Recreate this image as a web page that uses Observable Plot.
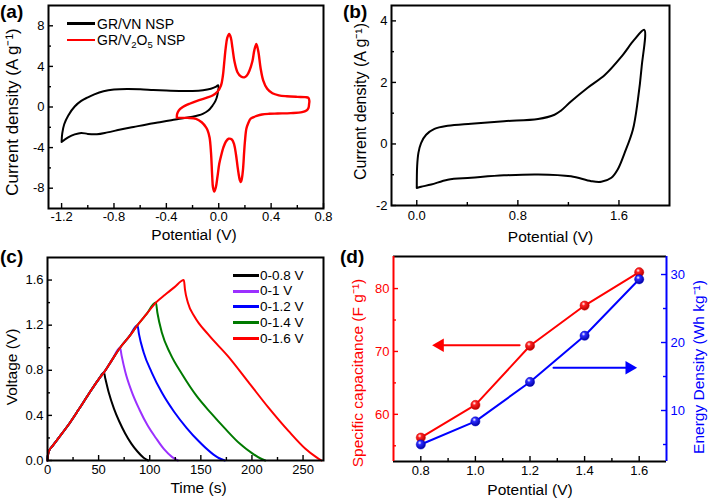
<!DOCTYPE html>
<html>
<head>
<meta charset="utf-8">
<script src="https://cdn.jsdelivr.net/npm/d3@7"></script>
<script src="https://cdn.jsdelivr.net/npm/@observablehq/plot@0.6"></script>
<style>
  html,body{margin:0;padding:0;background:#fff;}
  #fig{position:relative;width:708px;height:501px;overflow:hidden;font-family:"Liberation Sans",Arial,Helvetica,sans-serif;color:#000;}
  #fig svg{position:absolute;}
  .plab{position:absolute;font-family:"Liberation Sans",Arial,sans-serif;font-weight:bold;font-size:19px;line-height:1;}
  .leg{position:absolute;white-space:nowrap;}
  .leg .row{position:absolute;left:0;display:flex;align-items:center;height:14px;line-height:14px;}
  .leg .sw{display:inline-block;}
  .sub{font-size:9.5px;position:relative;top:3px;line-height:9px;}
</style>
</head>
<body>
<div id="fig"></div>
<script>
// ================= DATA =================
// (a) CV curves
const vnV  = [-1.2, -1.195, -1.18, -1.15, -1.1, -1.05, -1.0, -0.95, -0.88, -0.8, -0.7, -0.6, -0.5, -0.4, -0.3, -0.2, -0.12, -0.06, -0.02, -0.005, -0.01, -0.025, -0.047, -0.08, -0.122, -0.2, -0.3, -0.375, -0.45, -0.55, -0.65, -0.75, -0.85, -0.93, -1.0, -1.05, -1.1, -1.15, -1.2];
const vnI  = [-3.45, -2.6, -1.7, -0.85, 0.05, 0.6, 0.95, 1.25, 1.55, 1.72, 1.78, 1.75, 1.68, 1.62, 1.58, 1.58, 1.65, 1.8, 2.0, 2.15, 1.2, 0.6, 0.15, -0.35, -0.67, -0.95, -1.15, -1.33, -1.5, -1.72, -1.97, -2.22, -2.5, -2.68, -2.65, -2.55, -2.7, -3.0, -3.45];
const v2o5V = [-0.32, -0.318, -0.305, -0.28, -0.223, -0.15, -0.09, -0.047, -0.01, 0.017, 0.032, 0.042, 0.053, 0.065, 0.08, 0.093, 0.105, 0.12, 0.143, 0.17, 0.195, 0.215, 0.235, 0.257, 0.272, 0.287, 0.302, 0.32, 0.34, 0.37, 0.41, 0.459, 0.52, 0.6, 0.66, 0.685, 0.692, 0.69,
  0.685, 0.67, 0.636, 0.55, 0.45, 0.383, 0.33, 0.29, 0.262, 0.243, 0.225, 0.211, 0.2, 0.194, 0.185, 0.176, 0.169, 0.161, 0.152, 0.143, 0.132, 0.118, 0.1, 0.075, 0.055, 0.035, 0.02, 0.004, -0.01, -0.022, -0.034, -0.044, -0.05, -0.059, -0.07, -0.085, -0.097, -0.13, -0.173, -0.24, -0.32];
const v2o5I = [-1.05, -0.7, -0.35, -0.05, 0.32, 0.68, 0.92, 1.13, 1.5, 2.1, 3.1, 4.4, 5.8, 6.8, 7.2, 6.8, 5.8, 4.5, 3.43, 3.0, 2.92, 3.1, 3.6, 4.5, 5.6, 6.2, 5.5, 3.8, 2.6, 1.79, 1.35, 1.15, 1.06, 1.0, 0.97, 0.9, 0.6, 0.3,
  -0.1, -0.35, -0.51, -0.6, -0.64, -0.67, -0.74, -0.88, -1.02, -1.16, -1.6, -2.15, -3.4, -4.45, -6.2, -7.1, -7.4, -7.2, -6.6, -5.8, -4.7, -3.7, -3.2, -3.13, -3.4, -4.0, -4.7, -5.6, -6.9, -7.9, -8.33, -7.9, -6.8, -4.5, -3.0, -2.3, -2.0, -1.5, -1.16, -1.07, -1.05];

// (b) CV curve
const bV = [0, 0.003, 0.013, 0.034, 0.074, 0.14, 0.245, 0.43, 0.69, 0.96, 1.09, 1.14, 1.22, 1.35, 1.49, 1.62, 1.72, 1.8, 1.78, 1.75, 1.71, 1.645, 1.59, 1.54, 1.46, 1.38, 1.22, 0.96, 0.69, 0.43, 0.245, 0.114, 0.034, 0];
const bI = [-1.43, -0.72, -0.29, 0.03, 0.3, 0.49, 0.59, 0.66, 0.74, 0.81, 0.95, 1.08, 1.38, 1.82, 2.25, 2.84, 3.38, 3.71, 2.52, 1.44, 0.46, -0.29, -0.83, -1.1, -1.23, -1.21, -1.05, -0.99, -1.02, -1.1, -1.16, -1.32, -1.39, -1.43];

// (c) galvanostatic charge / discharge
const chargeT = [0, 0.5, 1.5, 5, 10, 20, 30, 40, 50, 55.2, 63, 71, 80, 88, 97, 106, 115, 124, 133.4];
const chargeV = [0, 0.05, 0.085, 0.13, 0.19, 0.31, 0.445, 0.585, 0.72, 0.78, 0.89, 1.0, 1.1, 1.2, 1.3, 1.4, 1.47, 1.535, 1.6];
const dis08T = [55.2, 56.5, 60, 65, 70, 76, 82, 88, 94, 98.5];
const dis08V = [0.78, 0.73, 0.6, 0.46, 0.35, 0.24, 0.15, 0.08, 0.025, 0];
const dis10T = [71, 72.5, 76, 82, 90, 98, 106, 114, 122, 127.5];
const dis10V = [1.0, 0.93, 0.79, 0.62, 0.45, 0.31, 0.2, 0.1, 0.03, 0];
const dis12T = [88, 89.5, 94, 102, 112, 124, 136, 148, 160, 168, 173.5];
const dis12V = [1.2, 1.12, 0.96, 0.78, 0.6, 0.43, 0.29, 0.17, 0.07, 0.02, 0];
const dis14T = [106, 107.5, 112, 120, 132, 146, 160, 174, 188, 200, 208, 213];
const dis14V = [1.4, 1.31, 1.13, 0.95, 0.76, 0.57, 0.42, 0.28, 0.15, 0.065, 0.02, 0];
const dis16T = [133.4, 134.5, 137.3, 143.9, 157, 176.7, 196.4, 216, 235.9, 252.3, 262.2, 268];
const dis16V = [1.6, 1.515, 1.40, 1.275, 1.12, 0.923, 0.697, 0.471, 0.26, 0.104, 0.034, 0];
const gcdLabels = ["0-0.8 V", "0-1 V", "0-1.2 V", "0-1.4 V", "0-1.6 V"];

// (d) capacitance & energy density vs potential window
const dPotential = [0.8, 1.0, 1.2, 1.4, 1.6];
const dCapacitance = [56.3, 61.5, 70.9, 77.3, 82.6];
const dEnergy = [5.0, 8.4, 14.2, 21.0, 29.3];
// annotation arrows (data coordinates)
const capArrowX = [1.162, 0.87], capArrowY = [71, 71];
const enArrowX = [1.286, 1.564], enArrowY = [16.3, 16.3];

// tick labels
const aXTicks = [-1.2, -0.8, -0.4, 0, 0.4, 0.8], aXMinor = [-1.0, -0.6, -0.2, 0.2, 0.6];
const aYTicks = [-8, -4, 0, 4, 8], aYMinor = [-6, -2, 2, 6];
const bXTicks = [0, 0.8, 1.6], bXMinor = [0.4, 1.2];
const bYTicks = [-2, 0, 2, 4], bYMinor = [-1, 1, 3];
const cXTicks = [0, 50, 100, 150, 200, 250], cXMinor = [25, 75, 125, 175, 225];
const cYTicks = [0, 0.4, 0.8, 1.2, 1.6], cYMinor = [0.2, 0.6, 1.0, 1.4];
const dXTicks = [0.8, 1.0, 1.2, 1.4, 1.6], dXMinor = [0.9, 1.1, 1.3, 1.5];
const dYLTicks = [60, 70, 80], dYLMinor = [55, 65, 75];
const dYRTicks = [10, 20, 30], dYRMinor = [5, 15, 25];

// ================= DRAWING =================
const FONT = '"Liberation Sans", Arial, Helvetica, sans-serif';
const RED = "#ff0000", BLUE = "#0000ff", PURPLE = "#9b30ff", GREEN = "#007a00";
const fig = document.getElementById("fig");
const f1 = d => d.toFixed(1), f0 = d => String(d);

function place(svg, left, top) {
  svg.style.left = left + "px";
  svg.style.top = top + "px";
  fig.appendChild(svg);
  return svg;
}

function axisSet(o) {
  const iw = o.width - o.m[1] - o.m[3], ih = o.height - o.m[0] - o.m[2];
  const c = o.color || "#000";
  const out = [];
  if (o.xTicks) {
    out.push(Plot.tickX(o.xTicks, {x: d => d, insetTop: ih - 5, stroke: "#000", strokeWidth: 1.4}));
    out.push(Plot.tickX(o.xMinor, {x: d => d, insetTop: ih - 3, stroke: "#000", strokeWidth: 1.4}));
    out.push(Plot.axisX({ticks: o.xTicks, tickSize: 0, tickPadding: o.xPad ?? 4, tickFormat: o.xFmt, label: null, fontSize: 13}));
    out.push(Plot.text([o.xTitle], {text: d => d, frameAnchor: "bottom", textAnchor: "middle", lineAnchor: "middle", dx: o.xOff[0], dy: o.xOff[1], fontSize: 15.5}));
  }
  if (o.yTicks) {
    const right = o.yAnchor === "right";
    const inset = right ? {insetLeft: iw - 5} : {insetRight: iw - 5};
    const inset2 = right ? {insetLeft: iw - 3} : {insetRight: iw - 3};
    out.push(Plot.tickY(o.yTicks, {y: d => d, ...inset, stroke: c, strokeWidth: 1.4}));
    out.push(Plot.tickY(o.yMinor, {y: d => d, ...inset2, stroke: c, strokeWidth: 1.4}));
    out.push(Plot.axisY({ticks: o.yTicks, anchor: right ? "right" : "left", tickSize: 0, tickPadding: 4, tickFormat: o.yFmt, label: null, color: c, fontSize: 13}));
    out.push(Plot.text([o.yTitle], {text: d => d, frameAnchor: right ? "right" : "left", rotate: -90, textAnchor: "middle", lineAnchor: "middle", dx: o.yOff[0], dy: o.yOff[1], fontSize: o.yFont ?? 15.5, fill: c}));
  }
  return out;
}

function makePlot(o, marks) {
  return Plot.plot({
    width: o.width, height: o.height,
    marginTop: o.m[0], marginRight: o.m[1], marginBottom: o.m[2], marginLeft: o.m[3],
    x: {domain: o.x, axis: o.xTicks ? undefined : null},
    y: {domain: o.y, axis: o.yTicks ? undefined : null},
    style: {background: "transparent", fontFamily: FONT, fontSize: "13px", color: "#000", overflow: "visible"},
    marks
  });
}

// ---------- (a) ----------
{
  const o = {width: 354, height: 250, m: [5, 31, 42, 48], x: [-1.3, 0.8], y: [-10, 10],
    xTicks: aXTicks, xMinor: aXMinor, xFmt: f1, xTitle: "Potential (V)", xOff: [8, 27], xPad: 3,
    yTicks: aYTicks, yMinor: aYMinor, yFmt: f0, yTitle: "Current density (A g⁻¹)", yOff: [-36, 5], yFont: 17};
  place(makePlot(o, [
    Plot.line(vnI, {x: vnV, y: vnI, stroke: "#000", strokeWidth: 2, curve: "catmull-rom"}),
    Plot.line(v2o5I, {x: v2o5V, y: v2o5I, stroke: RED, strokeWidth: 2.4, curve: "catmull-rom"}),
    ...axisSet(o),
    Plot.frame({stroke: "#000", strokeWidth: 2})
  ]), 0, 0);
}

// ---------- (b) ----------
{
  const o = {width: 354, height: 250, m: [5, 39, 45, 37], x: [-0.2, 2.0], y: [-2, 4.5],
    xTicks: bXTicks, xMinor: bXMinor, xFmt: f1, xTitle: "Potential (V)", xOff: [20, 32], xPad: 5,
    yTicks: bYTicks, yMinor: bYMinor, yFmt: f0, yTitle: "Current density (A g⁻¹)", yOff: [-31, -4], yFont: 16};
  place(makePlot(o, [
    Plot.line(bI, {x: bV, y: bI, stroke: "#000", strokeWidth: 2, curve: "catmull-rom"}),
    ...axisSet(o),
    Plot.frame({stroke: "#000", strokeWidth: 2})
  ]), 354, 0);
}

// ---------- (c) ----------
{
  const o = {width: 354, height: 251, m: [7, 31, 41, 47], x: [0, 270], y: [0, 1.8],
    xTicks: cXTicks, xMinor: cXMinor, xFmt: f0, xTitle: "Time (s)", xOff: [13, 28], xPad: 4,
    yTicks: cYTicks, yMinor: cYMinor, yFmt: f1, yTitle: "Voltage (V)", yOff: [-35, 8]};
  const series = [[dis08T, dis08V, "#000"], [dis10T, dis10V, PURPLE], [dis12T, dis12V, BLUE], [dis14T, dis14V, GREEN], [dis16T, dis16V, RED]];
  const lines = series.map(([dT, dV, col]) => {
    const n = chargeT.findIndex(t => t >= dT[0]);
    const t = chargeT.slice(0, n).concat(dT), v = chargeV.slice(0, n).concat(dV);
    return Plot.line(v, {x: t, y: v, stroke: col, strokeWidth: 2, curve: "monotone-x"});
  });
  place(makePlot(o, [...lines, ...axisSet(o), Plot.frame({stroke: "#000", strokeWidth: 2})]), 0, 250);
}

// ---------- (d) ----------
function addGradient(svg, id, mid, dark) {
  const ns = "http://www.w3.org/2000/svg";
  const defs = document.createElementNS(ns, "defs");
  defs.innerHTML = `<radialGradient id="${id}" cx="0.38" cy="0.32" r="0.7"><stop offset="0" stop-color="#ffffff"/><stop offset="0.3" stop-color="${mid}"/><stop offset="1" stop-color="${dark}"/></radialGradient>`;
  svg.insertBefore(defs, svg.firstChild);
}
{
  const base = {width: 354, height: 251, m: [6, 42, 40, 39], x: [0.7, 1.7]};
  const oL = {...base, y: [52.5, 85.1], color: RED,
    xTicks: dXTicks, xMinor: dXMinor, xFmt: f1, xTitle: "Potential (V)", xOff: [0, 29], xPad: 4,
    yTicks: dYLTicks, yMinor: dYLMinor, yFmt: f0, yTitle: "Specific capacitance (F g⁻¹)", yOff: [-35, 14]};
  const svgL = makePlot(oL, [
    Plot.line(dCapacitance, {x: dPotential, y: dCapacitance, stroke: RED, strokeWidth: 2}),
    Plot.line(capArrowY, {x: capArrowX, y: capArrowY, stroke: RED, strokeWidth: 2}),
    Plot.dot([0], {x: capArrowX[1], y: capArrowY[1], symbol: "triangle", r: 5, fill: RED, rotate: -90}),
    ...axisSet(oL),
    Plot.ruleY(oL.y, {stroke: "#000", strokeWidth: 2}),
    Plot.ruleX([oL.x[0]], {stroke: RED, strokeWidth: 2}),
    Plot.dot(dCapacitance, {x: dPotential, y: dCapacitance, r: 4.6, fill: "url(#sphRed)", stroke: "#d00000", strokeWidth: 0.5})
  ]);
  addGradient(svgL, "sphRed", "#ff2020", "#b00000");
  place(svgL, 354, 250);

  const oR = {...base, y: [2.5, 32.65], color: BLUE,
    yTicks: dYRTicks, yMinor: dYRMinor, yFmt: f0, yAnchor: "right", yTitle: "Energy Density (Wh kg⁻¹)", yOff: [33, 8]};
  const svgR = makePlot(oR, [
    Plot.line(dEnergy, {x: dPotential, y: dEnergy, stroke: BLUE, strokeWidth: 2}),
    Plot.line(enArrowY, {x: enArrowX, y: enArrowY, stroke: BLUE, strokeWidth: 2}),
    Plot.dot([0], {x: enArrowX[1], y: enArrowY[1], symbol: "triangle", r: 5, fill: BLUE, rotate: 90}),
    ...axisSet(oR),
    Plot.ruleX([oR.x[1]], {stroke: BLUE, strokeWidth: 2}),
    Plot.dot(dEnergy, {x: dPotential, y: dEnergy, r: 4.6, fill: "url(#sphBlue)", stroke: "#0000c0", strokeWidth: 0.5})
  ]);
  addGradient(svgR, "sphBlue", "#2a2aff", "#0000a0");
  place(svgR, 354, 250);
}

// ---------- legends & panel labels ----------
function legend(left, top, rows, fontSize, swW, swH, gap) {
  const div = document.createElement("div");
  div.className = "leg";
  div.style.left = left + "px"; div.style.top = top + "px"; div.style.fontSize = fontSize + "px";
  rows.forEach(([html, col, y]) => {
    const r = document.createElement("div");
    r.className = "row"; r.style.top = (y - 7) + "px";
    r.innerHTML = `<span class="sw" style="width:${swW}px;height:${swH}px;background:${col};margin-right:${gap}px"></span><span>${html}</span>`;
    div.appendChild(r);
  });
  fig.appendChild(div);
}
legend(67, 0, [["GR/VN NSP", "#000", 23.5], ["GR/V<span class=\"sub\">2</span>O<span class=\"sub\">5</span> NSP", RED, 40]], 14, 28, 2.5, 2);
const gcdColors = ["#000", PURPLE, BLUE, GREEN, RED];
legend(233, 250, gcdLabels.map((l, i) => [l, gcdColors[i], [25.5, 41, 56.5, 72.5, 88.5][i]]), 13.5, 26, 3, 1);

[["(a)", 0, 2], ["(b)", 343, 2], ["(c)", 0, 247], ["(d)", 340, 247]].forEach(([t, x, y]) => {
  const d = document.createElement("div");
  d.className = "plab"; d.textContent = t;
  d.style.left = x + "px"; d.style.top = y + "px";
  fig.appendChild(d);
});
</script>
</body>
</html>
